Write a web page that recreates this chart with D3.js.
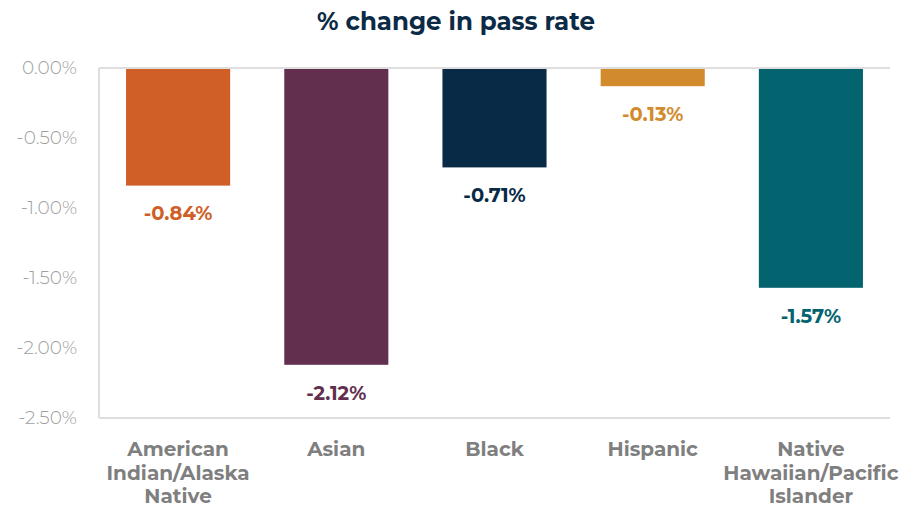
<!DOCTYPE html>
<html>
<head>
<meta charset="utf-8">
<script src="https://cdn.jsdelivr.net/npm/d3@7"></script>
<style>
  body { margin: 0; background: #fff; }
  svg { display: block; font-family: Montserrat, "DejaVu Sans", sans-serif; }
</style>
</head>
<body>
<svg id="chart" width="905" height="508"></svg>
<script>
const categories = [
  ['American', 'Indian/Alaska', 'Native'],
  ['Asian'],
  ['Black'],
  ['Hispanic'],
  ['Native', 'Hawaiian/Pacific', 'Islander']
];
const values = [-0.84, -2.12, -0.71, -0.13, -1.57];
const colors = ['#d05f27', '#62304e', '#082a47', '#d18b2c', '#03636f'];
const yTicks = [0, -0.5, -1, -1.5, -2, -2.5];
const title = '% change in pass rate';

const width = 905, height = 508;
const margin = { top: 68, right: 15, bottom: 90, left: 99 };

const svg = d3.select('#chart');

const x = d3.scaleBand()
  .domain(d3.range(values.length))
  .range([margin.left, width - margin.right])
  .paddingInner(0.342)
  .paddingOuter(0.171);

const y = d3.scaleLinear()
  .domain([0, -2.5])
  .range([margin.top, height - margin.bottom]);

// frame lines
const frame = svg.append('g')
  .attr('stroke', '#dedede')
  .attr('stroke-width', 2)
  .attr('fill', 'none');
frame.append('line')
  .attr('x1', x.range()[0]).attr('x2', x.range()[0])
  .attr('y1', y(0)).attr('y2', y(-2.5));
frame.append('line')
  .attr('x1', x.range()[0]).attr('x2', x.range()[1])
  .attr('y1', y(-2.5)).attr('y2', y(-2.5));

// bars
svg.append('g')
  .selectAll('rect')
  .data(values)
  .join('rect')
  .attr('x', (d, i) => x(i))
  .attr('width', x.bandwidth())
  .attr('y', y(0))
  .attr('height', d => y(d) - y(0))
  .attr('fill', (d, i) => colors[i]);

// zero line on top of bars
svg.append('line')
  .attr('stroke', '#dedede')
  .attr('stroke-width', 2)
  .attr('x1', x.range()[0]).attr('x2', x.range()[1])
  .attr('y1', y(0)).attr('y2', y(0));

// value labels
svg.append('g')
  .selectAll('text')
  .data(values)
  .join('text')
  .attr('x', (d, i) => x(i) + x.bandwidth() / 2)
  .attr('y', d => y(d) + 28)
  .attr('dy', '0.35em')
  .attr('text-anchor', 'middle')
  .attr('font-size', 19.5)
  .attr('font-weight', 'bold')
  .attr('fill', (d, i) => colors[i])
  .text(d => d.toFixed(2) + '%');

// y axis labels
const yAxis = d3.axisLeft(y)
  .tickValues(yTicks)
  .tickSize(0)
  .tickPadding(22)
  .tickFormat(d => d.toFixed(2) + '%');

svg.append('g')
  .attr('transform', `translate(${margin.left},0)`)
  .call(yAxis)
  .call(g => g.select('.domain').remove())
  .call(g => g.selectAll('text')
    .attr('font-size', 18.5)
    .attr('font-family', 'Montserrat, "DejaVu Sans", sans-serif')
    .attr('font-weight', 300)
    .attr('fill', '#a0a0a0'));

// category labels
const cat = svg.append('g')
  .selectAll('text')
  .data(categories)
  .join('text')
  .attr('x', (d, i) => x(i) + x.bandwidth() / 2)
  .attr('text-anchor', 'middle')
  .attr('font-size', 20)
  .attr('font-weight', 'bold')
  .attr('fill', '#7f7f7f');

cat.selectAll('tspan')
  .data(d => d)
  .join('tspan')
  .attr('x', function () { return d3.select(this.parentNode).attr('x'); })
  .attr('y', (d, j) => 449 + j * 23.5)
  .attr('dy', '0.35em')
  .text(d => d);

// title
svg.append('text')
  .attr('x', 456)
  .attr('y', 21)
  .attr('dy', '0.35em')
  .attr('text-anchor', 'middle')
  .attr('font-size', 24.5)
  .attr('font-weight', 'bold')
  .attr('fill', '#0b2a45')
  .text(title);
</script>
</body>
</html>
